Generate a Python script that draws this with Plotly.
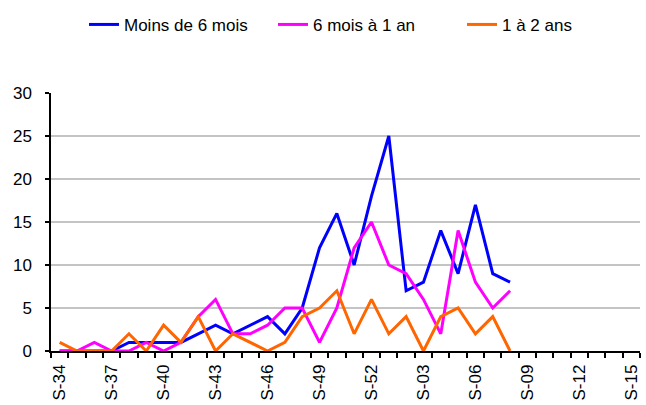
import plotly.graph_objects as go

weeks = [f"S-{n:02d}" for n in range(34, 53)] + [f"S-{n:02d}" for n in range(1, 16)]

moins_6_mois = [0, 0, 0, 0, 1, 1, 1, 1, 2, 3, 2, 3, 4, 2, 5, 12, 16, 10, 18, 25, 7, 8, 14, 9, 17, 9, 8]
six_mois_1_an = [0, 0, 1, 0, 0, 1, 0, 1, 4, 6, 2, 2, 3, 5, 5, 1, 5, 12, 15, 10, 9, 6, 2, 14, 8, 5, 7]
un_2_ans = [1, 0, 0, 0, 2, 0, 3, 1, 4, 0, 2, 1, 0, 1, 4, 5, 7, 2, 6, 2, 4, 0, 4, 5, 2, 4, 0]

series = [
    ("Moins de 6 mois", moins_6_mois, "#0000FF"),
    ("6 mois à 1 an", six_mois_1_an, "#FF00FF"),
    ("1 à 2 ans", un_2_ans, "#FF6600"),
]

x_idx = list(range(len(weeks)))
label_idx = x_idx[::3]
label_txt = weeks[::3]

fig = go.Figure()
for name, vals, color in series:
    fig.add_trace(go.Scatter(
        x=x_idx[:len(vals)], y=vals, name=name, mode="lines",
        line=dict(color=color, width=3), cliponaxis=False,
    ))

font = dict(family="Liberation Sans, Arial, sans-serif", size=17, color="black")

fig.update_layout(
    width=646, height=405,
    margin=dict(l=51, r=6, t=93, b=54, autoexpand=False),
    paper_bgcolor="white", plot_bgcolor="white",
    font=font,
    showlegend=True,
    legend=dict(orientation="h", x=0.056, xanchor="left", y=1.264, yanchor="middle",
                font=dict(size=17), itemwidth=30, entrywidth=144, tracegroupgap=0),
)
fig.update_xaxes(
    range=[-0.5, len(weeks) - 0.5],
    tickmode="array", tickvals=label_idx, ticktext=label_txt,
    tickangle=-90, ticks="", ticklen=0, ticklabelstandoff=5,
    showgrid=False, zeroline=False,
    showline=True, linecolor="black", linewidth=1.5,
    minor=dict(tickmode="linear", tick0=-0.5, dtick=1, ticks="outside",
               ticklen=5, tickcolor="black", tickwidth=1.5, showgrid=False),
    layer="below traces",
)
fig.update_yaxes(
    range=[0, 30], dtick=5, tick0=0,
    ticks="outside", ticklen=4, tickcolor="black", tickwidth=1.5,
    ticklabelstandoff=10,
    showgrid=True, gridcolor="#C4C4C4", gridwidth=2,
    zeroline=False, showline=True, linecolor="black", linewidth=1.5,
    layer="below traces",
)

fig.write_html("out.html", config={"displayModeBar": False},
               post_script="document.body.style.margin='0';")
